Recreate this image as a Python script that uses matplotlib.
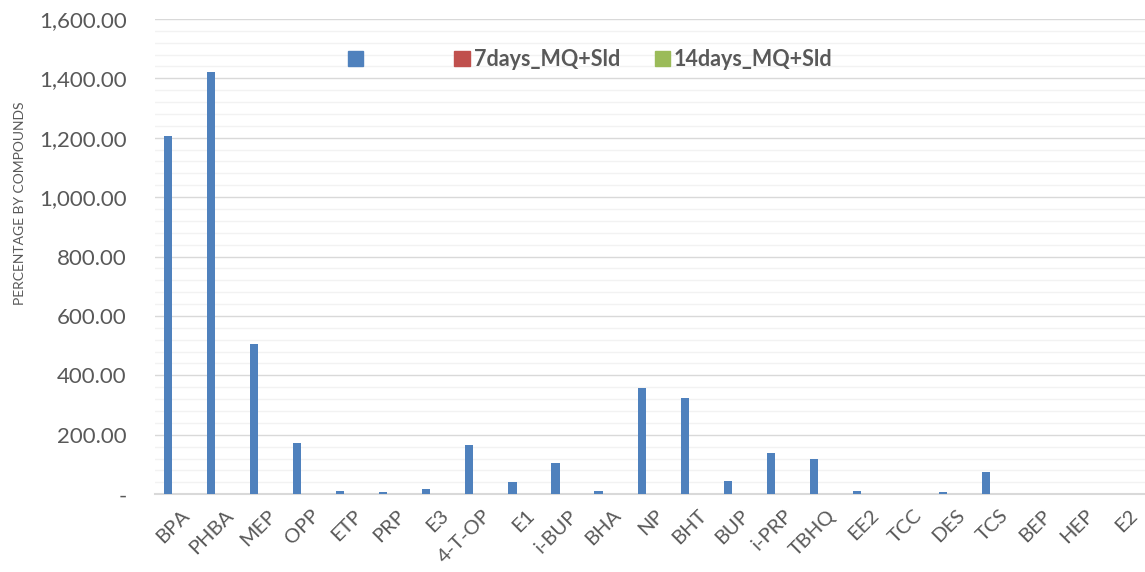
import numpy as np
import matplotlib.pyplot as plt
import matplotlib.transforms as mtransforms
from matplotlib.ticker import FuncFormatter, MultipleLocator
from matplotlib.patches import Patch

# Datos
compuestos = ['BPA', 'PHBA', 'MEP', 'OPP', 'ETP', 'PRP', 'E3', '4-T-OP', 'E1', 'i-BUP',
              'BHA', 'NP', 'BHT', 'BUP', 'i-PRP', 'TBHQ', 'EE2', 'TCC', 'DES', 'TCS',
              'BEP', 'HEP', 'E2']
serie_1 = [1205, 1420, 505, 174, 10, 8, 19, 167, 41, 104,
           11, 357, 325, 43, 140, 118, 12, 1, 7, 74,
           0, 0, 0]
dias_7 = [0] * len(compuestos)
dias_14 = [0] * len(compuestos)
etiquetas = ['', '7days_MQ+Sld', '14days_MQ+Sld']

azul = '#4F81BD'
rojo = '#C0504D'
verde = '#9BBB59'
gris = '#595959'

plt.rcParams['font.family'] = ['Lato', 'DejaVu Sans']

fig = plt.figure(figsize=(11.45, 5.72), dpi=100)
ax = fig.add_axes([0.135, 0.136, 0.865, 0.831])

x = np.arange(len(compuestos))
ancho = 0.19
ax.bar(x - ancho, serie_1, ancho, color=azul, zorder=3)
ax.bar(x, dias_7, ancho, color=rojo, zorder=3)
ax.bar(x + ancho, dias_14, ancho, color=verde, zorder=3)

ax.set_xlim(-0.5, len(compuestos) - 0.5)
ax.set_ylim(0, 1600)
ax.yaxis.set_major_locator(MultipleLocator(200))
ax.yaxis.set_minor_locator(MultipleLocator(40))
ax.yaxis.set_major_formatter(FuncFormatter(lambda v, p: '-' if v == 0 else f'{v:,.2f}'))
ax.grid(axis='y', which='major', color='#D9D9D9', linewidth=1.0, zorder=0)
ax.grid(axis='y', which='minor', color='#F2F2F2', linewidth=1.0, zorder=0)

for s in ['top', 'right', 'left']:
    ax.spines[s].set_visible(False)
ax.spines['bottom'].set_color('#D9D9D9')
ax.spines['bottom'].set_linewidth(1.5)

ax.set_xticks(x)
ax.set_xticklabels(compuestos, rotation=45, ha='right', rotation_mode='anchor')
ax.tick_params(axis='y', which='both', length=0, labelsize=16, labelcolor=gris, pad=20)
ax.tick_params(axis='x', which='both', length=0, labelsize=14.5, labelcolor=gris, pad=9)
desplazamiento = mtransforms.ScaledTranslation(5 / 100, 0, fig.dpi_scale_trans)
for lbl in ax.get_xticklabels():
    lbl.set_transform(lbl.get_transform() + desplazamiento)

ax.set_ylabel('PERCENTAGE BY COMPOUNDS', fontsize=10, color=gris)
ax.yaxis.set_label_coords(-0.130, 0.613)

handles = [Patch(color=azul), Patch(color=rojo), Patch(color=verde)]
ax.legend(handles, [' ' * 10, etiquetas[1], etiquetas[2]], loc='upper center',
          bbox_to_anchor=(0.44, 0.978), ncol=3, frameon=False,
          prop={'size': 15.5, 'weight': 'bold'}, labelcolor=gris,
          handlelength=0.7, handleheight=0.7, handletextpad=0.2, columnspacing=1.6)

plt.savefig('out.png', dpi=100)
